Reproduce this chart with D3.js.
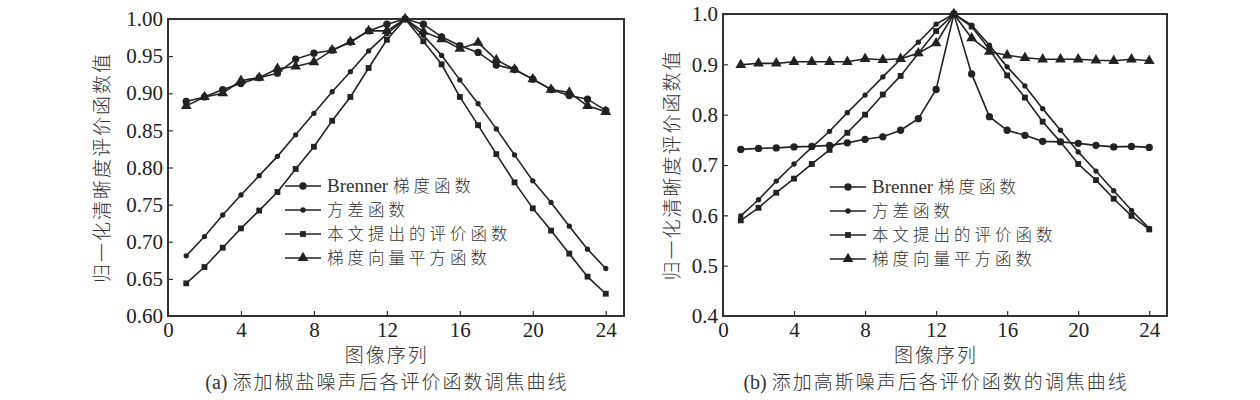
<!DOCTYPE html>
<html>
<head>
<meta charset="utf-8">
<script src="https://cdn.jsdelivr.net/npm/d3@7"></script>
<style>
  body { margin: 0; background: #fff; }
  svg { display: block; }
  .tick text { font-family: "Liberation Serif", "Times New Roman", serif; font-size: 21px; fill: #222; }
  .tick line { stroke: #333; stroke-width: 1.2; }
  .domain { stroke: none; }
  .cn { font-family: "Liberation Serif", "Noto Sans CJK SC", serif; font-size: 19px; fill: #333; }
  .cn .han { font-family: "Noto Sans CJK SC", sans-serif; letter-spacing: 2px; font-weight: 300; }
  .cn .lat { font-family: "Liberation Serif", serif; font-size: 20px; }
  .cn.legend { font-size: 16.5px; }
  .cn.legend .han { letter-spacing: 4px; }
  .cn.legend .lat { font-size: 19px; }
</style>
</head>
<body>
<div id="wrapper"></div>
<script>
// image index 1..24
const imageIndex = [1,2,3,4,5,6,7,8,9,10,11,12,13,14,15,16,17,18,19,20,21,22,23,24];
const xTicks = [0,4,8,12,16,20,24];
const legendNames = ["Brenner 梯度函数", "方差函数", "本文提出的评价函数", "梯度向量平方函数"];

// (a) salt & pepper noise
const brennerA  = [0.889,0.895,0.905,0.913,0.921,0.927,0.946,0.954,0.958,0.969,0.984,0.993,1.000,0.993,0.976,0.964,0.955,0.938,0.932,0.919,0.905,0.897,0.892,0.877];
const varianceA = [0.681,0.707,0.736,0.763,0.789,0.815,0.844,0.873,0.902,0.929,0.957,0.980,1.000,0.978,0.951,0.918,0.886,0.852,0.817,0.782,0.753,0.721,0.690,0.664];
const proposedA = [0.644,0.666,0.692,0.718,0.742,0.767,0.798,0.828,0.863,0.895,0.934,0.972,1.000,0.970,0.939,0.895,0.857,0.818,0.780,0.745,0.715,0.684,0.653,0.630];
const gradientA = [0.883,0.895,0.900,0.917,0.921,0.933,0.936,0.942,0.958,0.969,0.984,0.984,1.000,0.983,0.973,0.960,0.968,0.945,0.932,0.919,0.905,0.901,0.883,0.875];
const yTicksA = [0.60,0.65,0.70,0.75,0.80,0.85,0.90,0.95,1.00];

// (b) gaussian noise
const brennerB  = [0.731,0.733,0.734,0.736,0.737,0.739,0.744,0.751,0.756,0.769,0.792,0.850,1.000,0.881,0.796,0.769,0.759,0.747,0.746,0.743,0.739,0.736,0.737,0.735];
const varianceB = [0.599,0.631,0.668,0.702,0.735,0.767,0.804,0.839,0.875,0.910,0.944,0.980,1.000,0.978,0.938,0.895,0.857,0.812,0.769,0.726,0.688,0.649,0.610,0.574];
const proposedB = [0.590,0.615,0.645,0.673,0.702,0.730,0.764,0.800,0.840,0.877,0.922,0.966,1.000,0.975,0.930,0.878,0.834,0.786,0.746,0.702,0.670,0.633,0.599,0.572];
const gradientB = [0.899,0.902,0.902,0.905,0.905,0.905,0.905,0.911,0.909,0.911,0.922,0.942,1.000,0.952,0.925,0.918,0.913,0.910,0.910,0.910,0.908,0.907,0.910,0.907];
const yTicksB = [0.4,0.5,0.6,0.7,0.8,0.9,1.0];

const ink = "#222";
const markers = [
  {type: d3.symbolCircle, size: 42},
  {type: d3.symbolCircle, size: 22},
  {type: d3.symbolSquare, size: 34},
  {type: d3.symbolTriangle, size: 50}
];

const svg = d3.select("#wrapper").append("svg")
  .attr("width", 1260).attr("height", 400);

// split mixed text so only the Han characters get the wider spacing
function mixedText(el, str) {
  const runs = str.match(/[\u4e00-\u9fff]+|[^\u4e00-\u9fff]+/g);
  runs.forEach(r => {
    el.append("tspan")
      .attr("class", /[\u4e00-\u9fff]/.test(r) ? "han" : "lat")
      .text(r);
  });
  return el;
}

function drawPanel(cfg) {
  const x = d3.scaleLinear().domain([0, 25]).range([cfg.left, cfg.right]);
  const y = d3.scaleLinear().domain(cfg.yDomain).range([cfg.bottom, cfg.top]);
  const g = svg.append("g");

  g.append("g")
    .attr("transform", `translate(0,${cfg.bottom})`)
    .call(d3.axisBottom(x).tickValues(xTicks).tickSize(-5).tickSizeOuter(0).tickPadding(6).tickFormat(d3.format("d")));

  g.append("g")
    .attr("transform", `translate(${cfg.left},0)`)
    .call(d3.axisLeft(y).tickValues(cfg.yTicks).tickSize(-5).tickSizeOuter(0).tickPadding(5).tickFormat(d3.format(cfg.fmt)));

  g.selectAll(".tick text").attr("fill", ink);

  g.append("rect")
    .attr("x", cfg.left).attr("y", cfg.top)
    .attr("width", cfg.right - cfg.left).attr("height", cfg.bottom - cfg.top)
    .attr("fill", "none").attr("stroke", "#333").attr("stroke-width", 2);

  const line = d3.line().x((d, i) => x(imageIndex[i])).y(d => y(d));

  cfg.series.forEach((s, k) => {
    g.append("path").datum(s)
      .attr("d", line)
      .attr("fill", "none").attr("stroke", ink).attr("stroke-width", 1.6);
    const sym = d3.symbol().type(markers[k].type).size(markers[k].size);
    g.append("g").selectAll("path")
      .data(s)
      .enter()
      .append("path")
      .attr("d", sym)
      .attr("transform", (d, i) => `translate(${x(imageIndex[i])},${y(d)})`)
      .attr("fill", ink);
  });

  // legend
  legendNames.forEach((name, k) => {
    const ly = cfg.legendY + k * cfg.legendStep;
    g.append("line")
      .attr("x1", cfg.legendX).attr("x2", cfg.legendX + 36)
      .attr("y1", ly).attr("y2", ly)
      .attr("stroke", ink).attr("stroke-width", 1.6);
    g.append("path")
      .attr("d", d3.symbol().type(markers[k].type).size(markers[k].size)())
      .attr("transform", `translate(${cfg.legendX + 18},${ly})`)
      .attr("fill", ink);
    mixedText(g.append("text").attr("class", "cn legend")
      .attr("x", cfg.legendX + 42).attr("y", ly + 6), name);
  });

  const cx = (x(0) + x(24)) / 2;
  mixedText(g.append("text").attr("class", "cn")
    .attr("x", cx).attr("y", 362)
    .attr("text-anchor", "middle"), "图像序列");
  mixedText(g.append("text").attr("class", "cn")
    .attr("x", cx).attr("y", 389)
    .attr("text-anchor", "middle"), cfg.caption);
  mixedText(g.append("text").attr("class", "cn")
    .attr("transform", `translate(${cfg.titleX},${(cfg.top + cfg.bottom) / 2}) rotate(-90)`)
    .attr("text-anchor", "middle")
    .attr("dy", "0.35em"), "归一化清晰度评价函数值");
}

drawPanel({
  left: 168, right: 624, top: 19, bottom: 316,
  yDomain: [0.6, 1.0], yTicks: yTicksA, fmt: ".2f",
  series: [brennerA, varianceA, proposedA, gradientA],
  legendX: 285, legendY: 186, legendStep: 24,
  titleX: 102,
  caption: "(a) 添加椒盐噪声后各评价函数调焦曲线"
});

drawPanel({
  left: 723, right: 1167, top: 14, bottom: 316,
  yDomain: [0.4, 1.0], yTicks: yTicksB, fmt: ".1f",
  series: [brennerB, varianceB, proposedB, gradientB],
  legendX: 830, legendY: 187, legendStep: 24,
  titleX: 672,
  caption: "(b) 添加高斯噪声后各评价函数的调焦曲线"
});
</script>
</body>
</html>
